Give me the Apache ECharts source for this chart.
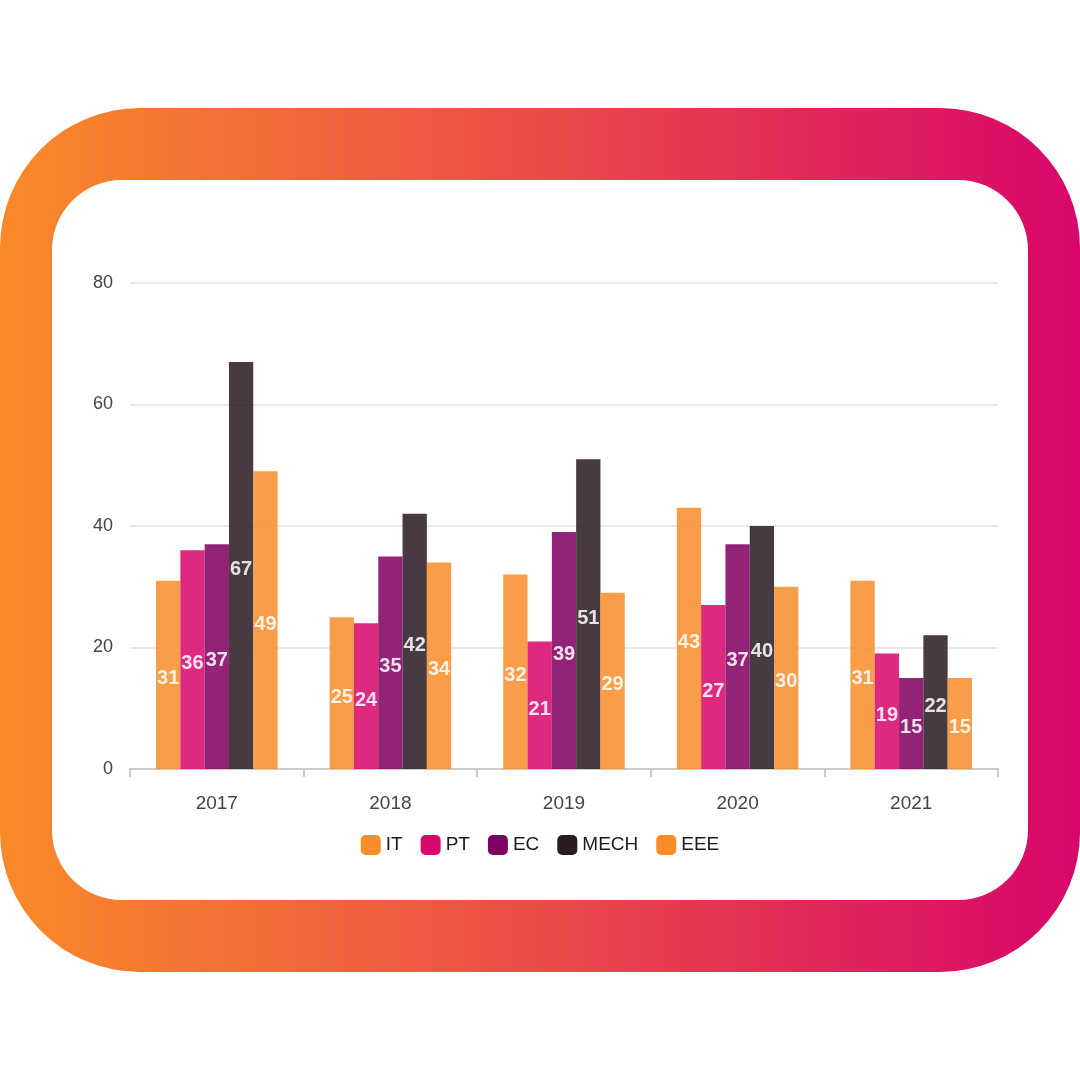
<!DOCTYPE html>
<html>
<head>
<meta charset="utf-8">
<script src="https://cdn.jsdelivr.net/npm/echarts@6/dist/echarts.min.js"></script>
<style>
  html, body { margin: 0; padding: 0; background: #fff; }
  #chart { width: 1080px; height: 1080px; }
</style>
</head>
<body>
<div id="chart"></div>
<script>
const years = ['2017', '2018', '2019', '2020', '2021'];
const seriesNames = ['IT', 'PT', 'EC', 'MECH', 'EEE'];
const itData = [31, 25, 32, 43, 31];
const ptData = [36, 24, 21, 27, 19];
const ecData = [37, 35, 39, 37, 15];
const mechData = [67, 42, 51, 40, 22];
const eeeData = [49, 34, 29, 30, 15];
const colors = ['#f98d2b', '#d9066b', '#800062', '#2a1a22', '#f98d2b'];

const chart = echarts.init(document.querySelector('#chart'));

function barSeries(name, data, color) {
  return {
    name: name,
    type: 'bar',
    data: data,
    barGap: 0,
    barCategoryGap: '30%',
    itemStyle: { color: color, opacity: 0.86 },
    label: {
      show: true,
      position: 'inside',
      offset: [0, 4],
      color: '#fff',
      fontWeight: 'bold',
      fontSize: 20,
      fontFamily: 'Liberation Sans'
    }
  };
}

const option = {
  textStyle: { fontFamily: 'Liberation Sans' },
  graphic: {
    elements: [
      {
        type: 'rect',
        z: -10,
        shape: { x: 0, y: 108, width: 1080, height: 864, r: 140 },
        style: {
          fill: new echarts.graphic.LinearGradient(0, 0, 1, 0, [
            { offset: 0, color: '#f98a28' },
            { offset: 0.5, color: '#eb4c48' },
            { offset: 1, color: '#d8066a' }
          ])
        }
      },
      {
        type: 'rect',
        z: -9,
        shape: { x: 52, y: 180, width: 976, height: 720, r: 70 },
        style: { fill: '#fff' }
      }
    ]
  },
  legend: {
    data: seriesNames,
    top: 830,
    left: 'center',
    icon: 'roundRect',
    itemWidth: 20,
    itemHeight: 20,
    itemGap: 18,
    itemStyle: { opacity: 1 },
    textStyle: { fontSize: 19, color: '#1a1a1a' }
  },
  grid: {
    left: 130,
    right: 82,
    top: 283,
    bottom: 311
  },
  xAxis: {
    type: 'category',
    data: years,
    axisLine: { lineStyle: { color: '#ccc', width: 2 } },
    axisTick: { show: true, length: 8, lineStyle: { color: '#ccc', width: 2 } },
    axisLabel: { fontSize: 19, color: '#444', margin: 25 }
  },
  yAxis: {
    type: 'value',
    min: 0,
    max: 80,
    interval: 20,
    axisLine: { show: false },
    axisTick: { show: false },
    axisLabel: { fontSize: 18, color: '#444', margin: 17 },
    splitLine: { lineStyle: { color: '#e3e3e3', width: 1.5 } }
  },
  series: [
    barSeries('IT', itData, colors[0]),
    barSeries('PT', ptData, colors[1]),
    barSeries('EC', ecData, colors[2]),
    barSeries('MECH', mechData, colors[3]),
    barSeries('EEE', eeeData, colors[4])
  ]
};

chart.setOption(option);
</script>
</body>
</html>
